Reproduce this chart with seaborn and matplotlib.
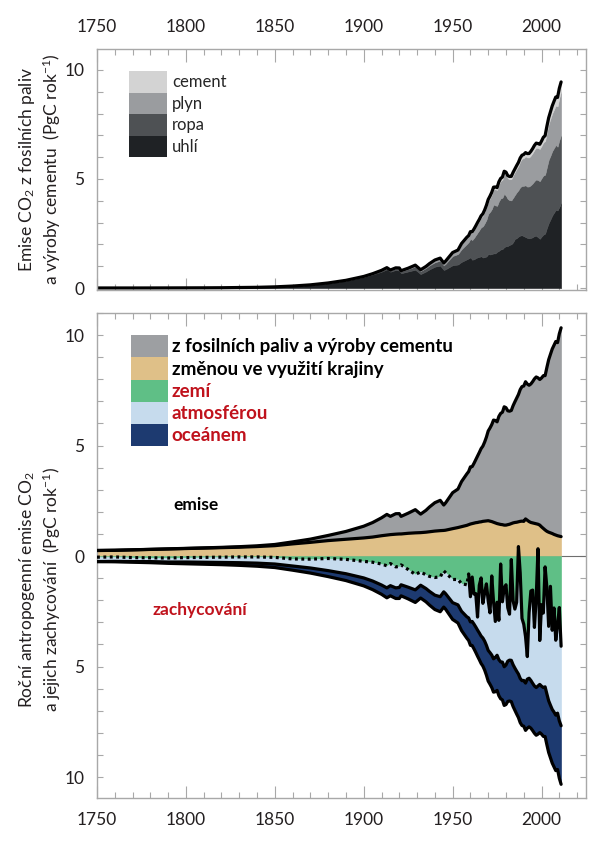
import pandas as pd
import matplotlib
matplotlib.use("Agg")
import matplotlib.pyplot as plt
import seaborn as sns
from matplotlib.patches import Patch
from matplotlib.ticker import MultipleLocator, FuncFormatter

# years: decadal early, sparse 1900-1958, yearly from 1959
years = ([1750, 1760, 1770, 1780, 1790, 1800, 1810, 1820, 1830, 1840, 1850,
          1860, 1870, 1880, 1890, 1900,
          1905, 1910, 1913, 1915, 1918, 1920, 1921, 1925, 1929, 1932,
          1935, 1937, 1940, 1943, 1945, 1946, 1950, 1953, 1955, 1958]
         + list(range(1959, 2012)))

# fossil fuel emissions by type (PgC/yr)
coal = [0.003, 0.003, 0.003, 0.004, 0.006, 0.008, 0.010, 0.014, 0.024, 0.033, 0.054,
        0.091, 0.145, 0.230, 0.340, 0.505,
        0.620, 0.750, 0.860, 0.750, 0.830, 0.800, 0.680, 0.760, 0.840, 0.640,
        0.760, 0.860, 0.980, 1.030, 0.830, 0.860, 1.050, 1.080, 1.200, 1.320,
        1.36, 1.41, 1.30, 1.32, 1.37, 1.41, 1.43, 1.46, 1.40, 1.42,
        1.45, 1.56, 1.54, 1.56, 1.59, 1.59, 1.66, 1.71, 1.77, 1.79,
        1.88, 1.92, 1.93, 1.98, 2.01, 2.10, 2.25, 2.29, 2.36, 2.41,
        2.42, 2.38, 2.34, 2.30, 2.28, 2.30, 2.33, 2.39, 2.40, 2.33,
        2.26, 2.36, 2.45, 2.50, 2.76, 2.98, 3.15, 3.33, 3.46, 3.58,
        3.56, 3.72, 3.88]
oil = [0, 0, 0, 0, 0, 0, 0, 0, 0, 0, 0,
       0, 0.001, 0.003, 0.010, 0.016,
       0.025, 0.040, 0.050, 0.055, 0.070, 0.085, 0.085, 0.110, 0.150, 0.140,
       0.160, 0.180, 0.200, 0.230, 0.210, 0.250, 0.420, 0.480, 0.580, 0.700,
       0.75, 0.85, 0.90, 0.98, 1.05, 1.13, 1.23, 1.33, 1.43, 1.55,
       1.68, 1.84, 1.95, 2.06, 2.24, 2.20, 2.11, 2.27, 2.34, 2.35,
       2.45, 2.31, 2.15, 2.05, 2.01, 2.04, 2.02, 2.10, 2.13, 2.22,
       2.26, 2.31, 2.37, 2.35, 2.38, 2.42, 2.47, 2.52, 2.58, 2.62,
       2.64, 2.68, 2.71, 2.70, 2.79, 2.90, 2.92, 2.95, 2.96, 2.98,
       2.92, 3.07, 3.11]
gas = [0, 0, 0, 0, 0, 0, 0, 0, 0, 0, 0,
       0, 0, 0, 0.004, 0.010,
       0.012, 0.020, 0.025, 0.022, 0.026, 0.035, 0.030, 0.035, 0.050, 0.050,
       0.060, 0.070, 0.090, 0.100, 0.100, 0.110, 0.140, 0.160, 0.230, 0.270,
       0.25, 0.28, 0.33, 0.35, 0.37, 0.40, 0.42, 0.45, 0.50, 0.53,
       0.58, 0.57, 0.63, 0.67, 0.69, 0.74, 0.73, 0.78, 0.80, 0.83,
       0.90, 0.96, 0.95, 0.96, 0.97, 1.03, 1.05, 1.08, 1.12, 1.18,
       1.25, 1.27, 1.33, 1.34, 1.33, 1.36, 1.40, 1.43, 1.46, 1.47,
       1.48, 1.48, 1.52, 1.54, 1.60, 1.64, 1.70, 1.73, 1.77, 1.81,
       1.85, 1.94, 2.01]
cement = [0, 0, 0, 0, 0, 0, 0, 0, 0, 0, 0,
          0, 0, 0, 0, 0,
          0, 0, 0, 0, 0, 0, 0, 0.005, 0.010, 0.008,
          0.010, 0.012, 0.015, 0.012, 0.010, 0.012, 0.018, 0.022, 0.030, 0.040,
          0.044, 0.046, 0.050, 0.055, 0.060, 0.065, 0.068, 0.072, 0.075, 0.080,
          0.085, 0.090, 0.095, 0.100, 0.105, 0.105, 0.105, 0.110, 0.115, 0.120,
          0.125, 0.125, 0.125, 0.125, 0.130, 0.135, 0.140, 0.145, 0.150, 0.155,
          0.160, 0.165, 0.170, 0.175, 0.180, 0.190, 0.195, 0.200, 0.205, 0.205,
          0.210, 0.220, 0.230, 0.245, 0.265, 0.285, 0.310, 0.340, 0.370, 0.390,
          0.410, 0.430, 0.450]

# land-use change emissions (PgC/yr)
luc = [0.25, 0.26, 0.28, 0.30, 0.32, 0.34, 0.36, 0.38, 0.40, 0.43, 0.47,
       0.55, 0.62, 0.70, 0.76, 0.82,
       0.86, 0.92, 0.95, 0.97, 0.99, 1.00, 1.00, 1.03, 1.05, 1.06,
       1.08, 1.10, 1.13, 1.15, 1.16, 1.17, 1.24, 1.29, 1.33, 1.39,
       1.42, 1.45, 1.47, 1.49, 1.51, 1.52, 1.54, 1.55, 1.57, 1.58,
       1.59, 1.60, 1.58, 1.56, 1.53, 1.50, 1.47, 1.45, 1.43, 1.42,
       1.40, 1.40, 1.42, 1.44, 1.47, 1.50, 1.52, 1.53, 1.55, 1.57,
       1.58, 1.57, 1.68, 1.62, 1.56, 1.52, 1.50, 1.48, 1.46, 1.44,
       1.40, 1.32, 1.25, 1.18, 1.12, 1.08, 1.05, 1.02, 0.98, 0.95,
       0.92, 0.90, 0.88]

# sinks (PgC/yr, shown downward)
land = [0.05, 0.04, 0.07, 0.08, 0.09, 0.07, 0.06, 0.05, 0.04, 0.04, 0.06,
        0.13, 0.14, 0.11, 0.15, 0.24,
        0.28, 0.36, 0.44, 0.34, 0.49, 0.47, 0.40, 0.61, 0.83, 0.72,
        0.85, 0.92, 0.97, 0.94, 0.67, 0.75, 1.06, 1.06, 1.25, 1.30,
        0.81, 1.84, 0.95, 1.72, 1.70, 2.76, 1.32, 0.99, 2.14, 1.67,
        1.26, 2.02, 2.57, 0.90, 2.06, 2.96, 2.09, 2.91, 0.36, 2.07,
        1.43, 1.30, 2.34, 2.63, 0.16, 2.02, 2.40, 2.09, -0.43, 0.77,
        2.82, 3.09, 3.65, 4.55, 2.56, 1.58, 1.54, 3.23, 1.90, -0.33,
        3.82, 2.20, 2.58, 0.49, 1.43, 3.18, 1.37, 3.36, 2.35, 3.81,
        3.10, 2.33, 4.08]
atm = [0.20, 0.20, 0.18, 0.17, 0.18, 0.20, 0.22, 0.24, 0.26, 0.28, 0.30,
       0.32, 0.40, 0.55, 0.65, 0.75,
       0.85, 0.95, 1.00, 1.00, 0.95, 0.95, 0.90, 0.80, 0.70, 0.60,
       0.62, 0.68, 0.80, 0.90, 0.95, 0.95, 1.05, 1.15, 1.25, 1.45,
       1.99, 1.14, 2.01, 1.36, 1.51, 0.59, 2.16, 2.63, 1.57, 2.18,
       2.78, 2.25, 1.80, 3.58, 2.59, 1.63, 2.40, 1.78, 4.43, 2.73,
       3.58, 3.63, 2.42, 2.08, 4.56, 2.90, 2.67, 3.12, 5.77, 4.77,
       2.82, 2.54, 2.10, 1.02, 2.97, 4.05, 4.22, 2.65, 4.05, 6.21,
       1.99, 3.69, 3.37, 5.43, 4.81, 3.37, 5.38, 3.58, 4.71, 3.39,
       4.01, 5.13, 3.60]
ocean = [0.00, 0.02, 0.03, 0.05, 0.06, 0.08, 0.09, 0.10, 0.12, 0.14, 0.16,
         0.19, 0.23, 0.27, 0.31, 0.36,
         0.39, 0.42, 0.45, 0.46, 0.48, 0.50, 0.50, 0.53, 0.57, 0.58,
         0.60, 0.62, 0.65, 0.68, 0.69, 0.70, 0.76, 0.82, 0.87, 0.97,
         1.02, 1.06, 1.09, 1.12, 1.15, 1.18, 1.21, 1.24, 1.27, 1.31,
         1.35, 1.39, 1.43, 1.47, 1.51, 1.55, 1.59, 1.63, 1.67, 1.71,
         1.75, 1.79, 1.82, 1.85, 1.87, 1.89, 1.91, 1.94, 1.97, 2.00,
         2.03, 2.07, 2.14, 2.22, 2.20, 2.16, 2.14, 2.14, 2.16, 2.18,
         2.18, 2.17, 2.21, 2.25, 2.30, 2.34, 2.38, 2.43, 2.48, 2.51,
         2.55, 2.60, 2.65]

fuel_labels = ["uhlí", "ropa", "plyn", "cement"]
fuel_colors = ["#1f2225", "#4e5154", "#9a9c9f", "#d3d3d3"]
budget_labels = ["z fosilních paliv a výroby cementu", "změnou ve využití krajiny",
                 "zemí", "atmosférou", "oceánem"]
budget_colors = ["#9d9fa2", "#dfc088", "#5fbf86", "#c6dbed", "#1d3a70"]
red = "#c0121c"

df = pd.DataFrame({"year": years, "coal": coal, "oil": oil, "gas": gas,
                   "cement": cement, "luc": luc, "land": land, "atm": atm,
                   "ocean": ocean})
df["fossil"] = df[["coal", "oil", "gas", "cement"]].sum(axis=1)
df["emis"] = df["fossil"] + df["luc"]
df["b_land"] = -df["land"]
df["b_atm"] = df["b_land"] - df["atm"]
df["b_ocean"] = df["b_atm"] - df["ocean"]

sns.set_theme(style="ticks")
plt.rcParams['font.family'] = ['Lato', 'DejaVu Sans']
plt.rcParams['mathtext.fontset'] = 'custom'
plt.rcParams['mathtext.rm'] = 'Lato'
plt.rcParams['mathtext.it'] = 'Lato:italic'
plt.rcParams['mathtext.bf'] = 'Lato:bold'
plt.rcParams['axes.edgecolor'] = '#a8a8a8'
plt.rcParams['axes.linewidth'] = 1.0

fig = plt.figure(figsize=(6.14, 8.42), dpi=100)
ax1 = fig.add_axes([97 / 614, 1 - 290 / 842, 489 / 614, 241 / 842])
ax2 = fig.add_axes([97 / 614, 1 - 798 / 842, 489 / 614, 485 / 842])

LW = 2.3

# top panel: fossil emissions by fuel
ax1.stackplot(df["year"], df["coal"], df["oil"], df["gas"], df["cement"],
              colors=fuel_colors, edgecolor="face", linewidth=0.4)
sns.lineplot(data=df, x="year", y="fossil", ax=ax1, color="black", lw=LW)

# bottom panel: sources up, sinks down
ax2.axhline(0, color="#6e6e6e", lw=0.8, zorder=1)
ax2.stackplot(df["year"], df["luc"], df["fossil"],
              colors=budget_colors[1::-1], edgecolor="face", linewidth=0.4, zorder=2)
ax2.stackplot(df["year"], df["b_land"], -df["atm"], -df["ocean"],
              colors=budget_colors[2:], edgecolor="face", linewidth=0.4, zorder=2)
for col in ["emis", "luc", "b_atm", "b_ocean"]:
    sns.lineplot(data=df, x="year", y=col, ax=ax2, color="black", lw=LW, zorder=4)
early = df[df["year"] <= 1959]
late = df[df["year"] >= 1959]
sns.lineplot(data=early, x="year", y="b_land", ax=ax2, color="black", lw=LW,
             linestyle=(0, (0.9, 1.1)), zorder=4)
sns.lineplot(data=late, x="year", y="b_land", ax=ax2, color="black", lw=LW, zorder=4)

tick_color = "#231f20"
for ax in (ax1, ax2):
    ax.set_xlim(1750, 2025)
    ax.xaxis.set_major_locator(MultipleLocator(50))
    ax.xaxis.set_minor_locator(MultipleLocator(10))
    ax.yaxis.set_major_locator(MultipleLocator(5))
    ax.yaxis.set_minor_locator(MultipleLocator(1))
    ax.tick_params(axis="x", which="major", direction="in", length=9, width=0.8,
                   color="#a8a8a8", top=True, bottom=True, pad=10,
                   labelsize=12.5, labelcolor=tick_color)
    ax.tick_params(axis="x", which="minor", direction="in", length=4, width=0.8,
                   color="#a8a8a8", top=True, bottom=True)
    ax.tick_params(axis="y", which="both", direction="in", length=4, width=0.8,
                   color="#a8a8a8", left=True, right=True, pad=9,
                   labelsize=12.5, labelcolor=tick_color)
    ax.set_xlabel("")
    for s in ax.spines.values():
        s.set_visible(True)
        s.set_color("#a8a8a8")

ax1.tick_params(axis="x", labeltop=True, labelbottom=False)
ax1.set_ylim(-0.09, 10.96)
ax2.set_ylim(-10.95, 11.0)
ax2.yaxis.set_major_formatter(FuncFormatter(lambda v, p: f"{abs(v):g}"))

ax1.set_ylabel("Emise CO$_2$ z fosilních paliv\na výroby cementu  (PgC rok$^{-1}$)",
               fontsize=12.5, va="center", color=tick_color)
ax1.yaxis.set_label_coords(-0.1166, 0.5)
ax2.set_ylabel("Roční antropogenní emise CO$_2$\na jejich zachycování  (PgC rok$^{-1}$)",
               fontsize=12.5, va="center", color=tick_color)
ax2.yaxis.set_label_coords(-0.1166, 0.43)

# legends (patch height = fs * (0.65 * handleheight + 0.245))
h1 = [Patch(facecolor=c, edgecolor="none", label=l)
      for c, l in zip(fuel_colors[::-1], fuel_labels[::-1])]
ax1.legend(handles=h1, loc="upper left", bbox_to_anchor=(0.0654, 0.909),
           frameon=False, borderpad=0, borderaxespad=0, labelspacing=0,
           handlelength=2.28, handleheight=1.62, handletextpad=0.3, fontsize=12)

h2 = [Patch(facecolor=c, edgecolor="none", label=l)
      for c, l in zip(budget_colors, budget_labels)]
leg2 = ax2.legend(handles=h2, loc="upper left", bbox_to_anchor=(0.0695, 0.9546),
                  frameon=False, borderpad=0, borderaxespad=0, labelspacing=0,
                  handlelength=1.97, handleheight=1.45, handletextpad=0.2,
                  prop={"size": 13.5, "weight": "bold"})
for i, t in enumerate(leg2.get_texts()):
    t.set_color("black" if i < 2 else red)

ax2.text(1805.5, 2.3, "emise", ha="center", va="center", fontsize=12.5,
         fontweight="bold", color="black")
ax2.text(1808, -2.45, "zachycování", ha="center", va="center", fontsize=12.5,
         fontweight="bold", color=red)

fig.savefig("out.png", dpi=100, facecolor="white")
